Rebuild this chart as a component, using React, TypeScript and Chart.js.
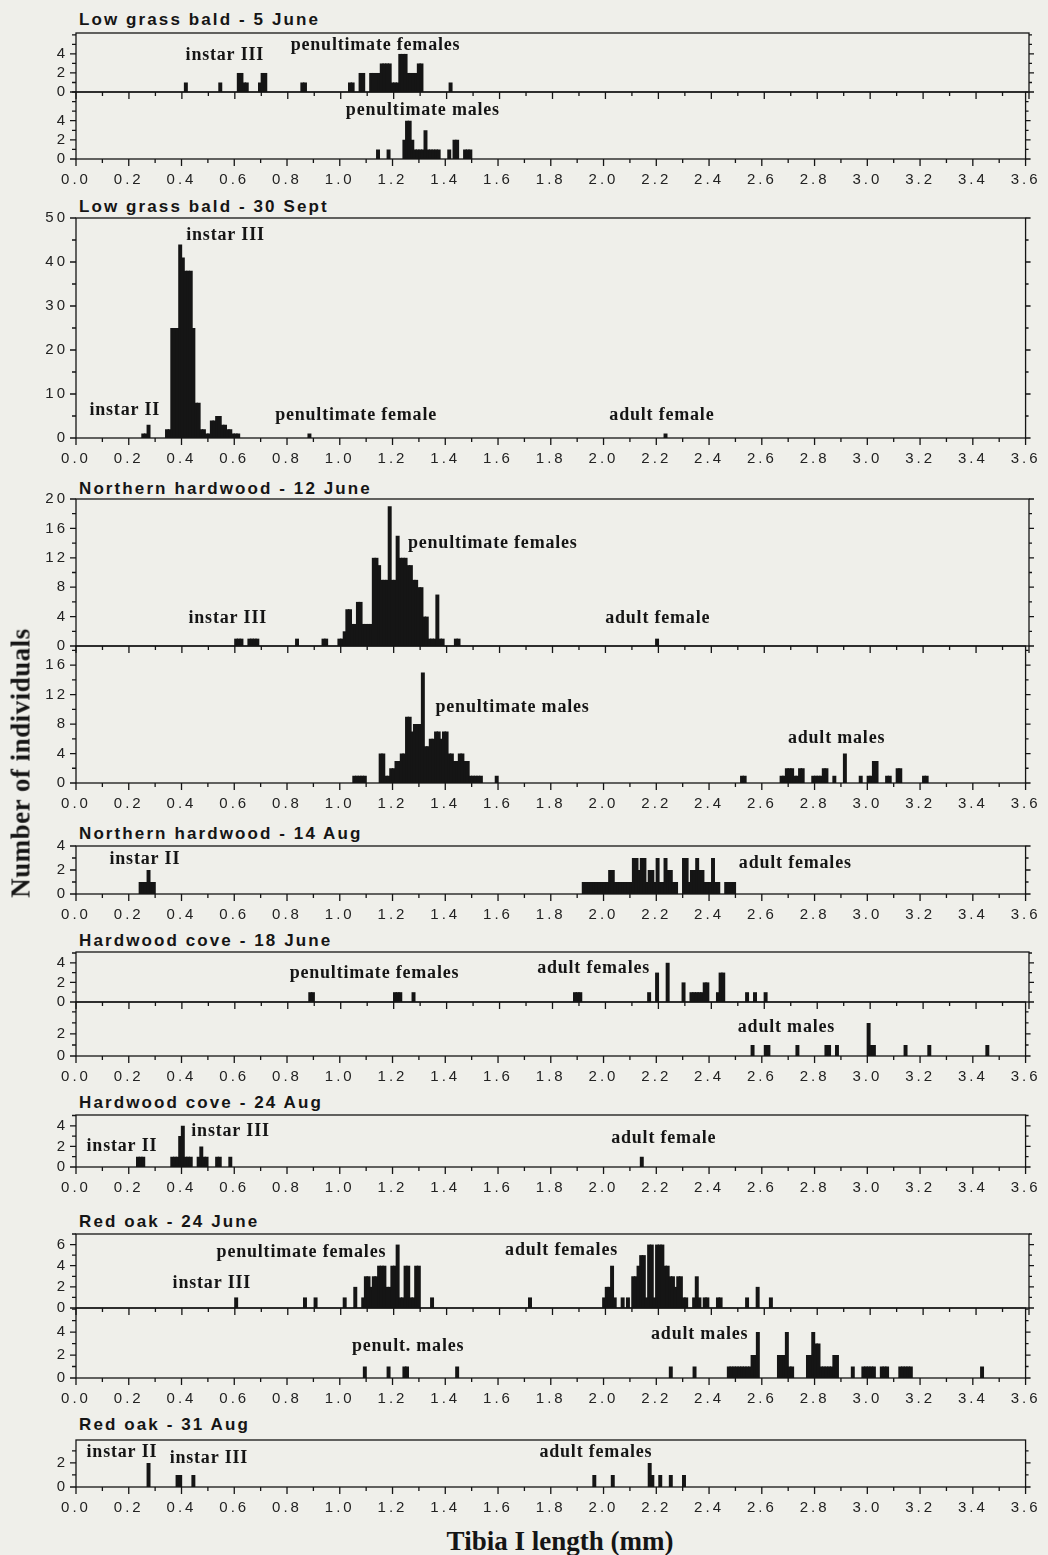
import React, { useEffect, useRef } from "react";
import { Chart, registerables } from "chart.js";

Chart.register(...registerables);

type Bin = [number, number]; // [left edge of a 0.01-mm bin, number of individuals]

const INK = "#151515";
const PAPER = "#efefea";

const xTickLabels = ["0.0", "0.2", "0.4", "0.6", "0.8", "1.0", "1.2", "1.4", "1.6", "1.8", "2.0", "2.2", "2.4", "2.6", "2.8", "3.0", "3.2", "3.4", "3.6"];

// Low grass bald - 5 June
const lgb5JuneFemales: Bin[] = [
  [0.41, 1], [0.54, 1], [0.61, 2], [0.62, 2], [0.63, 1], [0.64, 1], [0.69, 1], [0.70, 2], [0.71, 2],
  [0.85, 1], [0.86, 1], [1.03, 1], [1.04, 1], [1.07, 2], [1.08, 2], [1.11, 2], [1.12, 2], [1.13, 2], [1.14, 2],
  [1.15, 3], [1.16, 3], [1.17, 3], [1.18, 3], [1.19, 1], [1.20, 1], [1.21, 1], [1.22, 4], [1.23, 4], [1.24, 4],
  [1.25, 2], [1.26, 2], [1.27, 2], [1.28, 2], [1.29, 3], [1.30, 3], [1.41, 1],
];
const lgb5JuneMales: Bin[] = [
  [1.14, 1], [1.18, 1], [1.24, 2], [1.25, 4], [1.26, 4], [1.27, 2], [1.28, 1], [1.29, 1], [1.30, 1], [1.31, 1],
  [1.32, 3], [1.33, 1], [1.34, 1], [1.35, 1], [1.36, 1], [1.37, 1], [1.41, 1], [1.43, 2], [1.44, 2],
  [1.47, 1], [1.48, 1], [1.49, 1],
];
// Low grass bald - 30 Sept
const lgb30Sept: Bin[] = [
  [0.25, 1], [0.26, 1], [0.27, 3], [0.34, 2], [0.35, 2], [0.36, 25], [0.37, 25], [0.38, 25], [0.39, 44],
  [0.40, 41], [0.41, 38], [0.42, 38], [0.43, 38], [0.44, 25], [0.45, 8], [0.46, 8], [0.47, 2], [0.48, 2],
  [0.49, 1], [0.50, 1], [0.51, 4], [0.52, 4], [0.53, 5], [0.54, 5], [0.55, 3], [0.56, 3], [0.57, 2], [0.58, 2],
  [0.59, 1], [0.60, 1], [0.61, 1], [0.88, 1], [2.23, 1],
];
// Northern hardwood - 12 June
const nh12JuneFemales: Bin[] = [
  [0.60, 1], [0.61, 1], [0.62, 1], [0.65, 1], [0.66, 1], [0.67, 1], [0.68, 1], [0.83, 1], [0.93, 1], [0.94, 1],
  [0.99, 1], [1.00, 1], [1.01, 2], [1.02, 5], [1.03, 5], [1.04, 3], [1.05, 3], [1.06, 6], [1.07, 6], [1.08, 3],
  [1.09, 3], [1.10, 3], [1.11, 3], [1.12, 12], [1.13, 12], [1.14, 11], [1.15, 9], [1.16, 9], [1.17, 9], [1.18, 19],
  [1.19, 9], [1.20, 9], [1.21, 15], [1.22, 12], [1.23, 12], [1.24, 12], [1.25, 11], [1.26, 11], [1.27, 9], [1.28, 9],
  [1.29, 8], [1.30, 8], [1.31, 4], [1.32, 4], [1.33, 1], [1.34, 1], [1.35, 1], [1.36, 7], [1.37, 1], [1.38, 1],
  [1.43, 1], [1.44, 1], [2.19, 1],
];
const nh12JuneMales: Bin[] = [
  [1.05, 1], [1.06, 1], [1.07, 1], [1.08, 1], [1.09, 1], [1.15, 4], [1.16, 4], [1.17, 1], [1.18, 1], [1.19, 2],
  [1.20, 2], [1.21, 3], [1.22, 3], [1.23, 4], [1.24, 4], [1.25, 9], [1.26, 9], [1.27, 7], [1.28, 8], [1.29, 8],
  [1.30, 8], [1.31, 15], [1.32, 5], [1.33, 5], [1.34, 6], [1.35, 6], [1.36, 7], [1.37, 7], [1.38, 6], [1.39, 7],
  [1.40, 7], [1.41, 4], [1.42, 4], [1.43, 3], [1.44, 3], [1.45, 4], [1.46, 4], [1.47, 3], [1.48, 3], [1.49, 1],
  [1.50, 1], [1.51, 1], [1.52, 1], [1.53, 1], [1.59, 1],
  [2.52, 1], [2.53, 1], [2.67, 1], [2.68, 1], [2.69, 2], [2.70, 2], [2.71, 2], [2.72, 1], [2.73, 1], [2.74, 2],
  [2.75, 2], [2.79, 1], [2.80, 1], [2.81, 1], [2.82, 1], [2.83, 2], [2.84, 2], [2.87, 1], [2.91, 4], [2.97, 1],
  [3.00, 1], [3.01, 1], [3.02, 3], [3.03, 3], [3.07, 1], [3.08, 1], [3.11, 2], [3.12, 2], [3.21, 1], [3.22, 1],
];
// Northern hardwood - 14 Aug
const nh14Aug: Bin[] = [
  [0.24, 1], [0.25, 1], [0.26, 1], [0.27, 2], [0.28, 1], [0.29, 1],
  [1.92, 1], [1.93, 1], [1.94, 1], [1.95, 1], [1.96, 1], [1.97, 1], [1.98, 1], [1.99, 1], [2.00, 1], [2.01, 1],
  [2.02, 2], [2.03, 2], [2.04, 1], [2.05, 1], [2.06, 1], [2.07, 1], [2.08, 1], [2.09, 1], [2.10, 1], [2.11, 3],
  [2.12, 3], [2.13, 2], [2.14, 3], [2.15, 3], [2.16, 1], [2.17, 2], [2.18, 2], [2.19, 1], [2.20, 3], [2.21, 1],
  [2.22, 1], [2.23, 3], [2.24, 2], [2.25, 2], [2.26, 1], [2.27, 1], [2.30, 3], [2.31, 3], [2.32, 1], [2.33, 2],
  [2.34, 2], [2.35, 3], [2.36, 2], [2.37, 2], [2.38, 1], [2.39, 1], [2.40, 1], [2.41, 3], [2.42, 1], [2.43, 1],
  [2.46, 1], [2.47, 1], [2.48, 1], [2.49, 1],
];
// Hardwood cove - 18 June
const hc18JuneFemales: Bin[] = [
  [0.88, 1], [0.89, 1], [1.20, 1], [1.21, 1], [1.22, 1], [1.27, 1], [1.88, 1], [1.89, 1], [1.90, 1], [2.16, 1],
  [2.19, 3], [2.23, 4], [2.29, 2], [2.32, 1], [2.33, 1], [2.34, 1], [2.35, 1], [2.36, 1], [2.37, 2], [2.38, 2],
  [2.42, 1], [2.43, 3], [2.44, 3], [2.53, 1], [2.56, 1], [2.60, 1],
];
const hc18JuneMales: Bin[] = [
  [2.56, 1], [2.61, 1], [2.62, 1], [2.73, 1], [2.84, 1], [2.85, 1], [2.88, 1], [3.00, 3], [3.01, 1], [3.02, 1],
  [3.14, 1], [3.23, 1], [3.45, 1],
];
// Hardwood cove - 24 Aug
const hc24Aug: Bin[] = [
  [0.23, 1], [0.24, 1], [0.25, 1], [0.36, 1], [0.37, 1], [0.38, 1], [0.39, 3], [0.40, 4], [0.41, 1], [0.42, 1],
  [0.43, 1], [0.46, 1], [0.47, 2], [0.48, 1], [0.49, 1], [0.53, 1], [0.54, 1], [0.58, 1], [2.14, 1],
];
// Red oak - 24 June
const ro24JuneFemales: Bin[] = [
  [0.60, 1], [0.86, 1], [0.90, 1], [1.01, 1], [1.05, 2], [1.08, 1], [1.09, 3], [1.10, 3], [1.11, 2], [1.12, 3],
  [1.13, 3], [1.14, 4], [1.15, 4], [1.16, 4], [1.17, 2], [1.18, 2], [1.19, 4], [1.20, 4], [1.21, 6], [1.22, 1],
  [1.23, 1], [1.24, 4], [1.25, 4], [1.26, 1], [1.27, 1], [1.28, 4], [1.29, 4], [1.34, 1],
  [1.71, 1], [1.99, 1], [2.00, 2], [2.01, 2], [2.02, 4], [2.03, 1], [2.06, 1], [2.08, 1], [2.10, 3], [2.11, 3],
  [2.12, 4], [2.13, 5], [2.14, 5], [2.15, 1], [2.16, 6], [2.17, 6], [2.18, 1], [2.19, 6], [2.20, 6], [2.21, 6],
  [2.22, 4], [2.23, 4], [2.24, 3], [2.25, 3], [2.26, 2], [2.27, 3], [2.28, 3], [2.29, 1], [2.30, 1], [2.33, 1],
  [2.34, 3], [2.35, 1], [2.37, 1], [2.38, 1], [2.42, 1], [2.43, 1], [2.53, 1], [2.57, 2], [2.62, 1],
];
const ro24JuneMales: Bin[] = [
  [1.09, 1], [1.18, 1], [1.24, 1], [1.25, 1], [1.44, 1], [2.25, 1], [2.34, 1],
  [2.47, 1], [2.48, 1], [2.49, 1], [2.50, 1], [2.51, 1], [2.52, 1], [2.53, 1], [2.54, 1], [2.55, 1],
  [2.56, 2], [2.57, 2], [2.58, 4], [2.66, 2], [2.67, 2], [2.68, 2], [2.69, 4], [2.70, 1], [2.71, 1],
  [2.77, 2], [2.78, 2], [2.79, 4], [2.80, 3], [2.81, 3], [2.82, 1], [2.83, 1], [2.84, 1], [2.85, 1], [2.86, 1],
  [2.87, 2], [2.88, 2], [2.94, 1], [2.98, 1], [2.99, 1], [3.00, 1], [3.01, 1], [3.02, 1], [3.05, 1], [3.06, 1],
  [3.07, 1], [3.12, 1], [3.13, 1], [3.14, 1], [3.15, 1], [3.16, 1], [3.43, 1],
];
// Red oak - 31 Aug
const ro31Aug: Bin[] = [
  [0.27, 2], [0.38, 1], [0.39, 1], [0.44, 1], [1.96, 1], [2.03, 1], [2.17, 2], [2.18, 1], [2.21, 1], [2.25, 1],
  [2.30, 1],
];

type Note = { text: string; x: number; y: number };
type Sub = {
  bins: Bin[];
  top: number;
  base: number;
  yMax: number;
  yLabels: number[];
  yMinor: number;
  xLabels: boolean;
  notes: Note[];
};

const SUBS: Sub[] = [
  { bins: lgb5JuneFemales, top: 33, base: 92, yMax: 6.2, yLabels: [0, 2, 4], yMinor: 1, xLabels: false,
    notes: [{ text: "instar III", x: 0.414, y: 3.4 }, { text: "penultimate females", x: 0.811, y: 4.4 }] },
  { bins: lgb5JuneMales, top: 92, base: 159, yMax: 7, yLabels: [0, 2, 4], yMinor: 1, xLabels: true,
    notes: [{ text: "penultimate males", x: 1.023, y: 4.6 }] },
  { bins: lgb30Sept, top: 218, base: 438, yMax: 50, yLabels: [0, 10, 20, 30, 40, 50], yMinor: 5, xLabels: true,
    notes: [
      { text: "instar III", x: 0.418, y: 45 }, { text: "instar II", x: 0.051, y: 5.2 },
      { text: "penultimate female", x: 0.755, y: 4.1 }, { text: "adult female", x: 2.022, y: 4.1 },
    ] },
  { bins: nh12JuneFemales, top: 499, base: 646, yMax: 20, yLabels: [0, 4, 8, 12, 16, 20], yMinor: 2, xLabels: false,
    notes: [
      { text: "penultimate females", x: 1.254, y: 13.3 }, { text: "instar III", x: 0.425, y: 3.1 },
      { text: "adult female", x: 1.999, y: 3.1 },
    ] },
  { bins: nh12JuneMales, top: 646, base: 783, yMax: 18.6, yLabels: [0, 4, 8, 12, 16], yMinor: 2, xLabels: true,
    notes: [{ text: "penultimate males", x: 1.363, y: 9.6 }, { text: "adult males", x: 2.699, y: 5.4 }] },
  { bins: nh14Aug, top: 846, base: 894, yMax: 4, yLabels: [0, 2, 4], yMinor: 1, xLabels: true,
    notes: [{ text: "instar II", x: 0.127, y: 2.5 }, { text: "adult females", x: 2.513, y: 2.2 }] },
  { bins: hc18JuneFemales, top: 952, base: 1002, yMax: 5.1, yLabels: [0, 2, 4], yMinor: 1, xLabels: false,
    notes: [{ text: "penultimate females", x: 0.807, y: 2.45 }, { text: "adult females", x: 1.742, y: 3.0 }] },
  { bins: hc18JuneMales, top: 1002, base: 1056, yMax: 4.9, yLabels: [0, 2], yMinor: 1, xLabels: true,
    notes: [{ text: "adult males", x: 2.509, y: 2.2 }] },
  { bins: hc24Aug, top: 1115, base: 1167, yMax: 5.05, yLabels: [0, 2, 4], yMinor: 1, xLabels: true,
    notes: [
      { text: "instar II", x: 0.04, y: 1.55 }, { text: "instar III", x: 0.437, y: 3.0 },
      { text: "adult female", x: 2.029, y: 2.3 },
    ] },
  { bins: ro24JuneFemales, top: 1234, base: 1308, yMax: 7, yLabels: [0, 2, 4, 6], yMinor: 1, xLabels: false,
    notes: [
      { text: "penultimate females", x: 0.531, y: 4.85 }, { text: "instar III", x: 0.365, y: 1.9 },
      { text: "adult females", x: 1.621, y: 5.0 },
    ] },
  { bins: ro24JuneMales, top: 1308, base: 1378, yMax: 6.1, yLabels: [0, 2, 4], yMinor: 1, xLabels: true,
    notes: [{ text: "penult. males", x: 1.046, y: 2.35 }, { text: "adult males", x: 2.18, y: 3.4 }] },
  { bins: ro31Aug, top: 1440, base: 1487, yMax: 3.9, yLabels: [0, 2], yMinor: 1, xLabels: true,
    notes: [
      { text: "instar II", x: 0.04, y: 2.5 }, { text: "instar III", x: 0.355, y: 2.0 },
      { text: "adult females", x: 1.757, y: 2.5 },
    ] },
];

const TITLES = [
  { text: "Low grass bald - 5 June", y: 20 },
  { text: "Low grass bald - 30 Sept", y: 207 },
  { text: "Northern hardwood - 12 June", y: 489 },
  { text: "Northern hardwood - 14 Aug", y: 834 },
  { text: "Hardwood cove - 18 June", y: 941 },
  { text: "Hardwood cove - 24 Aug", y: 1103 },
  { text: "Red oak - 24 June", y: 1222 },
  { text: "Red oak - 31 Aug", y: 1425 },
];

// canvas margins: must be at least as large as Chart.js's own tick-label padding (label half height + padding)
const PAD_T = 20;
const AXIS_LABELLED = 36;
const AXIS_BARE = 20;
const LEFT = 76;
const RIGHT_PAD = 19;

function framePlugin(sub: Sub) {
  return {
    id: "frameAndNotes",
    beforeDraw(chart: any) {
      chart.ctx.letterSpacing = "3px";
    },
    afterDraw(chart: any) {
      const { ctx, chartArea: a } = chart;
      const xs = chart.scales.x;
      const ys = chart.scales.y;
      ctx.save();
      ctx.letterSpacing = "0px";
      ctx.strokeStyle = INK;
      ctx.lineWidth = 1.3;
      ctx.strokeRect(a.left, a.top, a.right - a.left, a.bottom - a.top);
      ctx.beginPath();
      const xt: number[] = xs.ticks.map((t: any) => t.value);
      xt.forEach((v, i) => {
        const px = xs.getPixelForValue(v);
        ctx.moveTo(px, a.bottom);
        ctx.lineTo(px, a.bottom + 7);
        if (i + 1 < xt.length) {
          const mx = xs.getPixelForValue((v + xt[i + 1]) / 2);
          ctx.moveTo(mx, a.bottom);
          ctx.lineTo(mx, a.bottom + 4);
        }
      });
      const steps = Math.floor(sub.yMax / sub.yMinor + 1e-6);
      for (let k = 0; k <= steps; k++) {
        const v = k * sub.yMinor;
        const major = sub.yLabels.some((l) => Math.abs(l - v) < 1e-6);
        const py = ys.getPixelForValue(v);
        ctx.moveTo(a.left - (major ? 6 : 4), py);
        ctx.lineTo(a.left, py);
        ctx.moveTo(a.right, py);
        ctx.lineTo(a.right + (major ? 5 : 3), py);
      }
      ctx.stroke();
      ctx.fillStyle = INK;
      ctx.font = 'bold 18px "Liberation Serif"';
      ctx.letterSpacing = "0.8px";
      ctx.textAlign = "left";
      ctx.textBaseline = "alphabetic";
      sub.notes.forEach((n) => ctx.fillText(n.text, xs.getPixelForValue(n.x), ys.getPixelForValue(n.y)));
      ctx.restore();
    },
  };
}

function Histogram({ sub }: { sub: Sub }) {
  const ref = useRef<HTMLCanvasElement | null>(null);
  const axisH = sub.xLabels ? AXIS_LABELLED : AXIS_BARE;
  const h = PAD_T + (sub.base - sub.top) + axisH;
  useEffect(() => {
    const canvas = ref.current;
    if (!canvas) return;
    const counts = new Map<number, number>();
    sub.bins.forEach(([edge, n]) => counts.set(Math.round(edge * 100), n));
    const table: { x: number; y: number }[] = [];
    for (let i = 0; i < 360; i++) table.push({ x: (i + 0.5) / 100, y: counts.get(i) ?? 0 });
    const tickFont = { family: '"Liberation Sans", Arial, sans-serif', size: 15 };
    const chart = new Chart(canvas, {
      type: "bar",
      data: {
        datasets: [
          {
            data: table as any,
            backgroundColor: INK,
            borderWidth: 0,
            barPercentage: 1.5,
            categoryPercentage: 1,
            inflateAmount: 0,
          } as any,
        ],
      },
      options: {
        responsive: false,
        animation: false,
        devicePixelRatio: 1,
        events: [],
        layout: { padding: { top: PAD_T, right: RIGHT_PAD, left: 0, bottom: 0 } },
        plugins: { legend: { display: false }, tooltip: { enabled: false }, title: { display: false } },
        scales: {
          x: {
            type: "linear",
            min: 0,
            max: 3.6,
            offset: false,
            grid: { display: false, drawTicks: false, offset: false },
            border: { display: false },
            afterBuildTicks: (s: any) => {
              s.ticks = xTickLabels.map((t) => ({ value: parseFloat(t) }));
            },
            afterFit: (s: any) => {
              s.height = axisH;
            },
            ticks: {
              display: sub.xLabels,
              autoSkip: false,
              maxRotation: 0,
              minRotation: 0,
              padding: 12,
              color: "#222",
              font: tickFont,
              callback: (v: any) => Number(v).toFixed(1),
            },
          } as any,
          y: {
            type: "linear",
            min: 0,
            max: sub.yMax,
            grid: { display: false, drawTicks: false },
            border: { display: false },
            afterBuildTicks: (s: any) => {
              s.ticks = sub.yLabels.map((v) => ({ value: v }));
            },
            afterFit: (s: any) => {
              s.width = LEFT;
            },
            ticks: {
              padding: 8,
              color: "#222",
              font: tickFont,
              callback: (v: any) => String(v),
            },
          } as any,
        },
      },
      plugins: [framePlugin(sub)],
    });
    return () => chart.destroy();
  }, [sub, axisH]);
  return (
    <canvas
      ref={ref}
      width={1048}
      height={h}
      style={{ position: "absolute", left: 0, top: sub.top - PAD_T, width: 1048, height: h }}
    />
  );
}

export default function App() {
  return (
    <div style={{ position: "absolute", left: 0, top: 0, width: 1048, height: 1555, background: PAPER, overflow: "hidden" }}>
      {TITLES.map((t) => (
        <div
          key={t.text}
          style={{
            position: "absolute",
            left: 79,
            top: t.y - 10,
            height: 20,
            lineHeight: "20px",
            font: 'bold 17px "Liberation Sans", Arial, sans-serif',
            letterSpacing: "2.1px",
            color: INK,
            whiteSpace: "nowrap",
          }}
        >
          {t.text}
        </div>
      ))}
      {SUBS.map((s, i) => (
        <Histogram key={i} sub={s} />
      ))}
      <div
        style={{
          position: "absolute",
          left: 21,
          top: 763,
          transform: "translate(-50%, -50%) rotate(-90deg)",
          font: 'bold 27px "Liberation Serif", serif',
          letterSpacing: "0.5px",
          color: INK,
          whiteSpace: "nowrap",
        }}
      >
        Number of individuals
      </div>
      <div
        style={{
          position: "absolute",
          left: 560,
          top: 1541,
          transform: "translate(-50%, -50%)",
          font: 'bold 27px "Liberation Serif", serif',
          color: INK,
          whiteSpace: "nowrap",
        }}
      >
        Tibia I length (mm)
      </div>
    </div>
  );
}
